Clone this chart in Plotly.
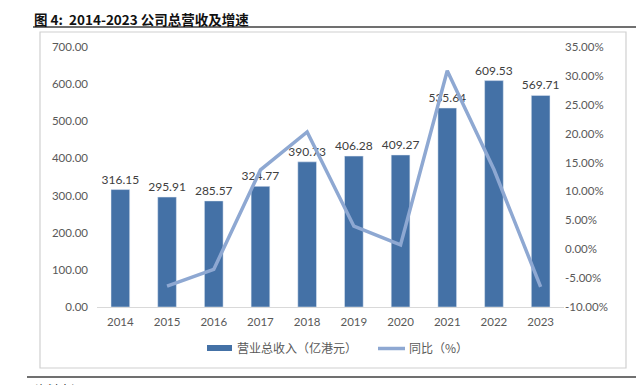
import plotly.graph_objects as go

years = ["2014", "2015", "2016", "2017", "2018", "2019", "2020", "2021", "2022", "2023"]
revenue = [316.15, 295.91, 285.57, 324.77, 390.73, 406.28, 409.27, 535.64, 609.53, 569.71]
growth = [None, -6.40, -3.49, 13.73, 20.31, 3.98, 0.74, 30.88, 13.79, -6.53]
left_ticks = [0, 100, 200, 300, 400, 500, 600, 700]
right_ticks = [-10, -5, 0, 5, 10, 15, 20, 25, 30, 35]

OFF = 8  # page body margin
W, H = 644 - OFF, 385 - OFF
L, R, T, B = 97 - OFF, 564 - OFF, 47 - OFF, 307 - OFF  # plot area in figure pixels

def px(x):
    return (x - OFF - L) / (R - L)

def py(y):
    return (B - (y - OFF)) / (B - T)

FONT = "Lato, 'Noto Sans CJK SC', sans-serif"
CJK = "'Noto Sans CJK SC', sans-serif"
BAR = "#4471A6"
LINE = "#8EA8D2"

fig = go.Figure()
fig.add_trace(go.Bar(
    x=years, y=revenue, marker_color=BAR, width=0.4,
    text=[f"{v:.2f}" for v in revenue], textposition="outside",
    constraintext="none",
    textfont=dict(size=12, color="#404040", family=FONT),
    cliponaxis=False, name="营业总收入（亿港元）",
))
fig.add_trace(go.Scatter(
    x=years, y=growth, mode="lines", yaxis="y2",
    line=dict(color=LINE, width=3.5), name="同比（%）", connectgaps=False,
))

fig.update_layout(
    width=W, height=H,
    margin=dict(l=L, r=W - R, t=T, b=H - B, autoexpand=False),
    paper_bgcolor="white", plot_bgcolor="white",
    showlegend=False,
    font=dict(family=FONT, color="#595959", size=11),
    xaxis=dict(showgrid=False, showline=True, linecolor="#D9D9D9", linewidth=1,
               ticks="", tickfont=dict(size=11.5, color="#595959"), ticklabelstandoff=4),
    yaxis=dict(range=[0, 700], tickvals=left_ticks,
               ticktext=[f"{v:.2f}" for v in left_ticks],
               showgrid=False, zeroline=False, showline=False,
               tickfont=dict(size=11.5, color="#595959"), ticklabelstandoff=8),
    yaxis2=dict(range=[-10, 35], tickvals=right_ticks,
                ticktext=[f"{v:.2f}%" for v in right_ticks],
                overlaying="y", side="right", showgrid=False, zeroline=False,
                showline=False, tickfont=dict(size=11.5, color="#595959"),
                ticklabelstandoff=0),
    bargap=0.6,
)

shapes = []
shapes.append(dict(type="rect", xref="paper", yref="paper",
                   x0=px(40), x1=px(626), y0=py(368), y1=py(32),
                   line=dict(color="#D0D0D0", width=1.2), fillcolor="rgba(0,0,0,0)", layer="below"))
shapes.append(dict(type="line", xref="paper", yref="paper",
                   x0=px(33), x1=px(640), y0=py(27), y1=py(27),
                   line=dict(color="#404040", width=1.5)))
shapes.append(dict(type="line", xref="paper", yref="paper",
                   x0=px(27), x1=px(636), y0=py(377), y1=py(377),
                   line=dict(color="#404040", width=1.5)))
shapes.append(dict(type="rect", xref="paper", yref="paper",
                   x0=px(207), x1=px(232), y0=py(351), y1=py(345),
                   fillcolor=BAR, line=dict(width=0)))
shapes.append(dict(type="line", xref="paper", yref="paper",
                   x0=px(378), x1=px(405), y0=py(348.5), y1=py(348.5),
                   line=dict(color=LINE, width=3.5)))
fig.update_layout(shapes=shapes)

annotations = [
    dict(text="<b>图 4:  2014-2023 公司总营收及增速</b>", xref="paper", yref="paper",
         x=px(33), y=py(OFF), xanchor="left", yanchor="top", showarrow=False,
         borderpad=0, font=dict(size=13.5, color="#111111", family=CJK)),
    dict(text="营业总收入（亿港元）", xref="paper", yref="paper",
         x=px(235), y=py(348), xanchor="left", yanchor="middle", showarrow=False,
         font=dict(size=12, color="#595959", family=CJK)),
    dict(text="同比（%）", xref="paper", yref="paper",
         x=px(407), y=py(348), xanchor="left", yanchor="middle", showarrow=False,
         font=dict(size=12, color="#595959", family=CJK)),
    dict(text="资料来源：Wind，HTI", xref="paper", yref="paper",
         x=px(33), y=py(389), xanchor="left", yanchor="middle", showarrow=False,
         font=dict(size=12, color="#222222", family=CJK)),
]
fig.update_layout(annotations=annotations)

fig.write_html("out.html")
